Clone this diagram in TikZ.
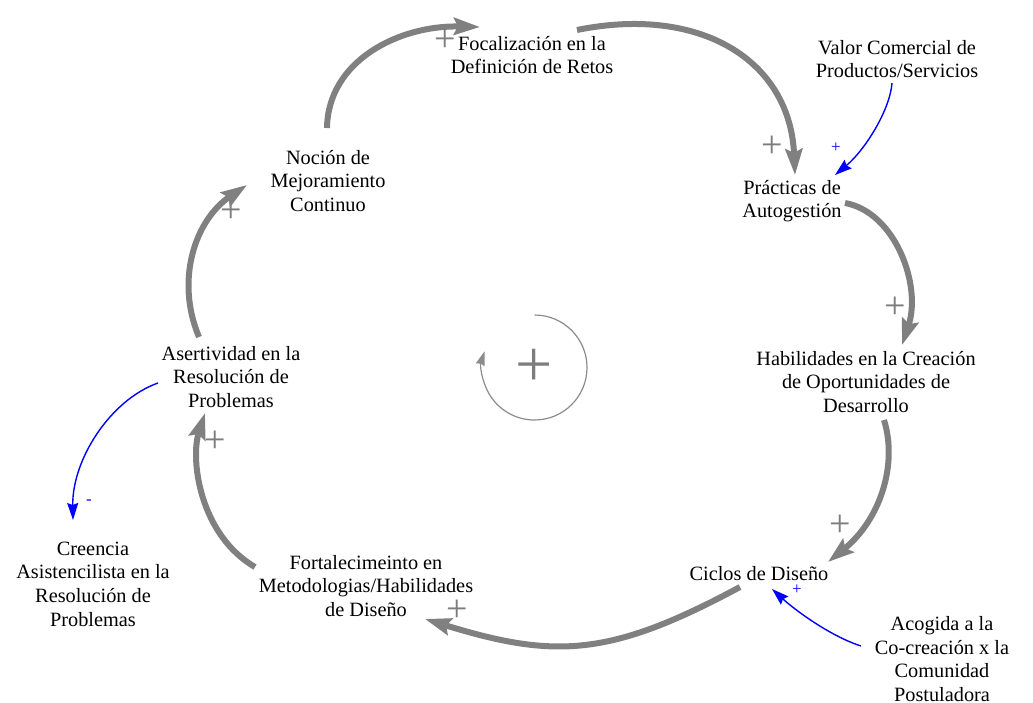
\documentclass[tikz,border=0pt]{standalone}
\usepackage{fontspec}
\setmainfont{Liberation Serif}
\newfontfamily\timesfont{Liberation Serif}
\usetikzlibrary{arrows.meta,calc}
\definecolor{loopgray}{RGB}{128,128,128}
\definecolor{signgray}{RGB}{125,125,125}
\definecolor{cyclegray}{RGB}{140,140,140}
\definecolor{linkblue}{RGB}{0,0,255}
\begin{document}
\begin{tikzpicture}[x=1pt,y=-1pt,
  lbl/.style={font=\timesfont\fontsize{20.3}{23.6}\selectfont, align=center, inner sep=0pt},
  loopedge/.style={draw=loopgray, line width=6pt, -{Stealth[length=26pt,width=17pt,inset=4pt]}},
  linkedge/.style={draw=linkblue, line width=1.4pt, -{Stealth[length=17pt,width=11pt,inset=2pt]}},
  cycedge/.style={draw=cyclegray, line width=1.2pt, -{Stealth[length=14pt,width=9pt,inset=1pt]}},
  sgn/.style={text=signgray, font=\timesfont\fontsize{38}{38}\selectfont, inner sep=0pt},
  bsgn/.style={text=linkblue, font=\timesfont\fontsize{17}{17}\selectfont, inner sep=0pt},
  csgn/.style={text=signgray, font=\timesfont\fontsize{66}{66}\selectfont, inner sep=0pt}]
\useasboundingbox (0,0) rectangle (1033,702);
\fill[white] (0,0) rectangle (1033,702);

% polarity signs of the main loop (behind the labels)
\node[sgn] (s1) at (445,41) {+};
\node[sgn] (s2) at (772,147) {+};
\node[sgn] (s3) at (895,308) {+};
\node[sgn] (s4) at (840,526) {+};
\node[sgn] (s5) at (457,611) {+};
\node[sgn] (s6) at (215,442) {+};
\node[sgn] (s7) at (231,212) {+};

% variables
\node[lbl] (foc) at (532,55) {Focalización en la\\Definición de Retos};
\node[lbl] (noc) at (328,181) {Noción de\\Mejoramiento\\Continuo};
\node[lbl] (pra) at (792,201) {Prácticas de\\Autogestión};
\node[lbl] (val) at (897,59) {Valor Comercial de\\Productos/Servicios};
\node[lbl] (hab) at (866,382) {Habilidades en la Creación\\de Oportunidades de\\Desarrollo};
\node[lbl] (cic) at (759,574) {Ciclos de Diseño};
\node[lbl] (aco) at (942,659) {Acogida a la\\Co-creación x la\\Comunidad\\Postuladora};
\node[lbl] (fort) at (366,586) {Fortalecimeinto en\\Metodologias/Habilidades\\de Diseño};
\node[lbl] (ase) at (231,377) {Asertividad en la\\Resolución de\\Problemas};
\node[lbl] (cre) at (93,584) {Creencia\\Asistencilista en la\\Resolución de\\Problemas};

% main reinforcing loop
\draw[loopedge] ($(noc)+(-1,-53)$) .. controls (328,60) and (400,25) .. ($(foc)+(-52,-28)$);
\draw[loopedge] ($(foc)+(45,-25)$) .. controls (700,5) and (790,60) .. ($(pra)+(3,-26)$);
\draw[loopedge] ($(pra)+(53,2)$) .. controls (895,212) and (922,285) .. ($(hab)+(36,-37)$);
\draw[loopedge] ($(hab)+(18,38)$) .. controls (898,465) and (880,520) .. ($(cic)+(69,-12)$);
\draw[loopedge] ($(cic)+(-19,13)$) .. controls (610,657) and (555,659) .. ($(fort)+(59,33)$);
\draw[loopedge] ($(fort)+(-111,-19)$) .. controls (200,535) and (190,460) .. ($(ase)+(-26,36)$);
\draw[loopedge] ($(ase)+(-32,-40)$) .. controls (175,280) and (195,220) .. ($(noc)+(-81,4)$);

% external links
\draw[linkedge] ($(val)+(-5,24)$) .. controls (890,110) and (865,150) .. ($(pra)+(43,-26)$);
\node[bsgn] (b1) at (836,148) {+};
\draw[linkedge] ($(ase)+(-73,6)$) .. controls (110,400) and (72,460) .. ($(cre)+(-20,-64)$);
\node[bsgn] (b2) at (89,502) {-};
\draw[linkedge] ($(aco)+(-81,-13)$) .. controls (830,636) and (795,610) .. ($(cic)+(13,15)$);
\node[bsgn] (b3) at (797,590) {+};

% loop identifier
\node[csgn] (loopsign) at (534.5,367.5) {+};
\draw[cycedge] ($(loopsign)+(0,-52.5)$) arc[start angle=-90, end angle=198, radius=52.5];
\end{tikzpicture}
\end{document}
